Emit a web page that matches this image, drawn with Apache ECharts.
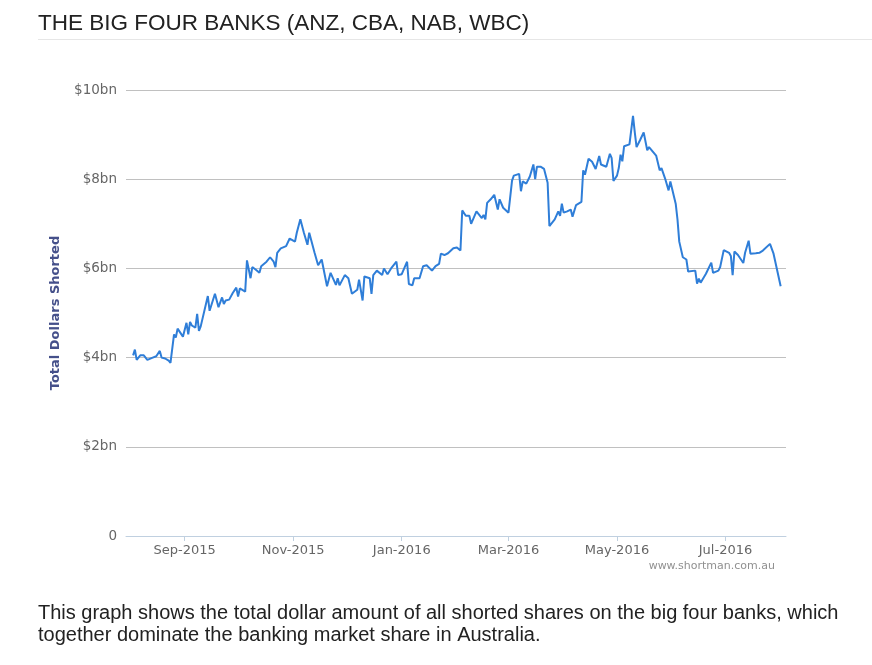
<!DOCTYPE html>
<html>
<head>
<meta charset="utf-8">
<title>The Big Four Banks</title>
<script src="https://cdn.jsdelivr.net/npm/echarts@6/dist/echarts.min.js"></script>
<style>
html, body { margin: 0; padding: 0; background: #fff; }
#main { width: 872px; height: 665px; }
</style>
</head>
<body>
<div id="main"></div>
<script>
// total dollars shorted across ANZ, CBA, NAB, WBC ($bn)
var dates = [
    '2015-08-03', '2015-08-04', '2015-08-05', '2015-08-07', '2015-08-09', '2015-08-11', '2015-08-14', '2015-08-16',
    '2015-08-18', '2015-08-19', '2015-08-21', '2015-08-23', '2015-08-24', '2015-08-26', '2015-08-27', '2015-08-28',
    '2015-08-31',
    '2015-09-02', '2015-09-03', '2015-09-04', '2015-09-05', '2015-09-07', '2015-09-08', '2015-09-09', '2015-09-10',
    '2015-09-14', '2015-09-15', '2015-09-16', '2015-09-18', '2015-09-20', '2015-09-22', '2015-09-23', '2015-09-24',
    '2015-09-26', '2015-09-28', '2015-09-29', '2015-09-30',
    '2015-10-01', '2015-10-02', '2015-10-05', '2015-10-06', '2015-10-08', '2015-10-09', '2015-10-11', '2015-10-13',
    '2015-10-14', '2015-10-17', '2015-10-19', '2015-10-21', '2015-10-22', '2015-10-23', '2015-10-25', '2015-10-28',
    '2015-10-30',
    '2015-11-02', '2015-11-03', '2015-11-05', '2015-11-07', '2015-11-09', '2015-11-10', '2015-11-13', '2015-11-15',
    '2015-11-17', '2015-11-18', '2015-11-20', '2015-11-22', '2015-11-25', '2015-11-26', '2015-11-27', '2015-11-30',
    '2015-12-02', '2015-12-03', '2015-12-04', '2015-12-07', '2015-12-08', '2015-12-10', '2015-12-11', '2015-12-14',
    '2015-12-15', '2015-12-16', '2015-12-18', '2015-12-21', '2015-12-22', '2015-12-24', '2015-12-26', '2015-12-29',
    '2015-12-30',
    '2016-01-01', '2016-01-04', '2016-01-05', '2016-01-07', '2016-01-08', '2016-01-11', '2016-01-13', '2016-01-15',
    '2016-01-18', '2016-01-20', '2016-01-22', '2016-01-23', '2016-01-25', '2016-01-26', '2016-01-27', '2016-01-30',
    '2016-02-01', '2016-02-03', '2016-02-04', '2016-02-06', '2016-02-08', '2016-02-09', '2016-02-12', '2016-02-15',
    '2016-02-16', '2016-02-17', '2016-02-18', '2016-02-20', '2016-02-22', '2016-02-24', '2016-02-25', '2016-02-27',
    '2016-03-01', '2016-03-03', '2016-03-04', '2016-03-07', '2016-03-08', '2016-03-09', '2016-03-11', '2016-03-13',
    '2016-03-15', '2016-03-16', '2016-03-17', '2016-03-19', '2016-03-21', '2016-03-23', '2016-03-24', '2016-03-27',
    '2016-03-29', '2016-03-30', '2016-03-31',
    '2016-04-01', '2016-04-03', '2016-04-05', '2016-04-06', '2016-04-08', '2016-04-11', '2016-04-12', '2016-04-13',
    '2016-04-15', '2016-04-17', '2016-04-19', '2016-04-21', '2016-04-22', '2016-04-25', '2016-04-26', '2016-04-27',
    '2016-04-28', '2016-04-29',
    '2016-05-01', '2016-05-02', '2016-05-03', '2016-05-04', '2016-05-05', '2016-05-08', '2016-05-09', '2016-05-10',
    '2016-05-11', '2016-05-12', '2016-05-14', '2016-05-16', '2016-05-18', '2016-05-19', '2016-05-23', '2016-05-24',
    '2016-05-25', '2016-05-26', '2016-05-28', '2016-05-30', '2016-05-31',
    '2016-06-03', '2016-06-04', '2016-06-05', '2016-06-07', '2016-06-09', '2016-06-10', '2016-06-11', '2016-06-14',
    '2016-06-15', '2016-06-16', '2016-06-17', '2016-06-20', '2016-06-23', '2016-06-24', '2016-06-27', '2016-06-28',
    '2016-06-30',
    '2016-07-01', '2016-07-03', '2016-07-04', '2016-07-05', '2016-07-06', '2016-07-08', '2016-07-11', '2016-07-12',
    '2016-07-14', '2016-07-15', '2016-07-18', '2016-07-20', '2016-07-22', '2016-07-26', '2016-07-28', '2016-07-29',
    '2016-08-01'
];
var shorted = [
    4.05, 4.18, 3.95, 4.05, 4.05, 3.95, 4.00, 4.03, 4.15, 4.00, 3.98, 3.93, 3.88, 4.52, 4.45, 4.65, 4.47,
    4.78, 4.52, 4.80, 4.72, 4.67, 4.98, 4.60, 4.70, 5.38, 5.05, 5.08, 5.43, 5.13, 5.35, 5.20, 5.28, 5.30, 5.45, 5.45, 5.57,
    5.37, 5.55, 5.48, 6.18, 5.78, 6.03, 5.97, 5.90, 6.05, 6.15, 6.25, 6.15, 6.03, 6.35, 6.45, 6.50, 6.67,
    6.60, 6.80, 7.10, 6.80, 6.53, 6.80, 6.35, 6.07, 6.20, 6.18, 5.60, 5.90, 5.63, 5.78, 5.62, 5.85,
    5.78, 5.80, 5.43, 5.52, 5.75, 5.28, 5.82, 5.78, 5.43, 5.85, 5.95, 5.85, 6.00, 5.87, 6.00, 6.15, 5.85,
    5.87, 6.15, 5.65, 5.62, 5.78, 5.78, 6.05, 6.07, 5.95, 6.05, 6.10, 6.33, 6.30, 6.27, 6.34, 6.45,
    6.47, 6.40, 7.30, 7.18, 7.18, 7.00, 7.28, 7.13, 7.20, 7.10, 7.47, 7.55, 7.65, 7.32, 7.55, 7.36,
    7.25, 7.97, 8.08, 8.12, 7.73, 7.95, 7.90, 8.06, 8.33, 8.00, 8.28, 8.28, 8.23, 7.92, 6.95, 7.10, 7.28, 7.18, 7.45,
    7.25, 7.28, 7.32, 7.16, 7.42, 7.49, 8.20, 8.10, 8.46, 8.39, 8.23, 8.52, 8.33, 8.28, 8.25, 8.57, 8.47, 7.96,
    8.08, 8.25, 8.55, 8.40, 8.74, 8.78, 8.78, 9.42, 9.05, 8.72, 8.88, 9.05, 8.65, 8.72, 8.53, 8.50, 8.20, 8.25, 8.02, 7.75, 7.95,
    7.45, 7.10, 6.60, 6.25, 6.20, 5.93, 5.95, 5.95, 5.66, 5.77, 5.68, 5.88, 6.13, 5.90, 5.95, 6.03, 6.41,
    6.45, 6.35, 6.28, 5.85, 6.38, 6.30, 6.12, 6.35, 6.62, 6.33, 6.34, 6.35, 6.40, 6.55, 6.33, 6.33,
    5.60
];
// axis range
var xStart = '2015-07-30';
var xEnd = '2016-08-04';
var yMax = 10;
var yStep = 2;

var titleText = 'THE BIG FOUR BANKS (ANZ, CBA, NAB, WBC)';
var yAxisName = 'Total Dollars Shorted';
var creditText = 'www.shortman.com.au';
var captionText = 'This graph shows the total dollar amount of all shorted shares on the big four banks, which\ntogether dominate the banking market share in Australia.';

var seriesData = [];
for (var i = 0; i < dates.length; i++) {
    seriesData.push([dates[i], shorted[i]]);
}

var myChart = echarts.init(document.getElementById('main'), null, { renderer: 'canvas' });

var option = {
    animation: false,
    backgroundColor: '#fff',
    grid: {
        left: 126,
        right: 86,
        top: 90,
        bottom: 129
    },
    xAxis: {
        type: 'time',
        min: xStart,
        max: xEnd,
        splitNumber: 5,
        axisLine: { lineStyle: { color: '#C0D0E0', width: 1 } },
        axisTick: { show: true, length: 5, lineStyle: { color: '#C0D0E0' } },
        splitLine: { show: false },
        axisLabel: {
            formatter: '{MMM}-{yyyy}',
            color: '#666',
            fontSize: 13,
            fontFamily: 'DejaVu Sans',
            margin: 8,
            showMinLabel: false,
            showMaxLabel: false
        }
    },
    yAxis: {
        type: 'value',
        min: 0,
        max: yMax,
        interval: yStep,
        name: yAxisName,
        nameLocation: 'middle',
        nameGap: 64,
        nameTextStyle: {
            color: '#45508a',
            fontWeight: 'bold',
            fontSize: 13,
            fontFamily: 'DejaVu Sans'
        },
        axisLine: { show: false },
        axisTick: { show: false },
        splitLine: { lineStyle: { color: '#C0C0C0', width: 1 } },
        axisLabel: {
            color: '#666',
            fontSize: 13.5,
            fontFamily: 'DejaVu Sans',
            margin: 9,
            formatter: function (v) {
                return v === 0 ? '0' : '$' + v + 'bn';
            }
        }
    },
    series: [{
        type: 'line',
        data: seriesData,
        showSymbol: false,
        smooth: false,
        lineStyle: { color: '#2f7ed8', width: 2 },
        itemStyle: { color: '#2f7ed8' }
    }],
    graphic: [
        {
            type: 'text',
            x: 38,
            y: 12.5,
            style: {
                text: titleText,
                font: '22.5px "Liberation Sans", Arial, sans-serif',
                fill: '#222',
                verticalAlign: 'top'
            }
        },
        {
            type: 'line',
            shape: { x1: 38, y1: 39.5, x2: 872, y2: 39.5 },
            style: { stroke: '#e6e6e6', lineWidth: 1 }
        },
        {
            type: 'text',
            x: 775,
            y: 561,
            style: {
                text: creditText,
                font: '11px "DejaVu Sans", Verdana, sans-serif',
                fill: '#909090',
                align: 'right',
                verticalAlign: 'top'
            }
        },
        {
            type: 'text',
            x: 38,
            y: 602,
            style: {
                text: captionText,
                font: '20px "Liberation Sans", Arial, sans-serif',
                lineHeight: 22,
                fill: '#222',
                verticalAlign: 'top'
            }
        }
    ]
};

myChart.setOption(option);

window.onresize = function () {
    myChart.resize();
};
</script>
</body>
</html>
